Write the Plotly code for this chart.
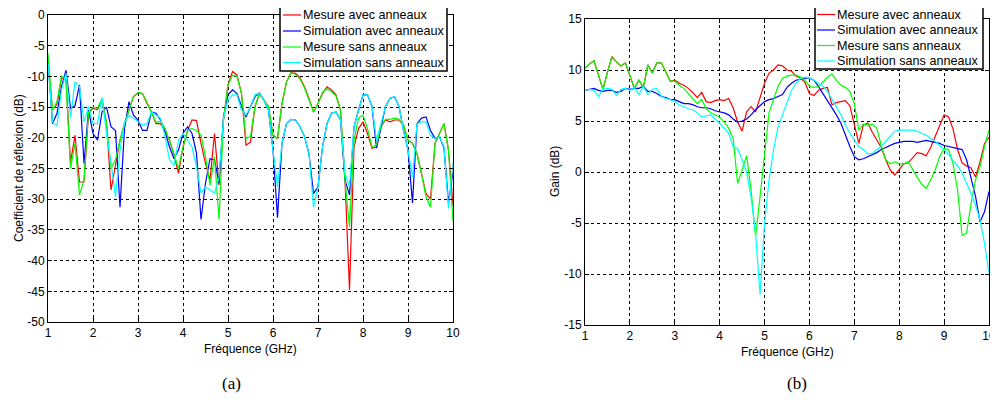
import numpy as np
import plotly.graph_objects as go

# Frequency grid (GHz), 0.1 GHz step
freq = [round(1.0 + 0.1 * i, 1) for i in range(91)]

# ---- (a) Coefficient de réflexion (dB) ----
s11_mes_avec = [-7.5, -15.5, -14.5, -10.3, -10.5, -24.0, -19.6, -27.2, -27.2, -16.0,
                -15.2, -15.4, -13.8, -17.5, -28.5, -24.7, -20.4, -17.7, -15.5, -13.3,
                -12.7, -12.8, -14.4, -15.8, -17.7, -17.7, -18.8, -20.4, -22.8, -25.8,
                -21.5, -18.8, -17.1, -17.2, -20.9, -24.2, -26.9, -19.3, -27.7, -17.1,
                -11.4, -9.2, -9.8, -12.8, -21.2, -20.7, -14.9, -12.8, -13.9, -14.9,
                -19.6, -20.1, -14.4, -10.9, -9.4, -9.5, -10.2, -11.7, -13.6, -15.8,
                -14.4, -12.8, -11.7, -12.2, -13.0, -15.5, -26.9, -44.8, -21.5, -18.5,
                -17.4, -19.3, -21.7, -21.5, -18.2, -17.1, -17.4, -17.1, -17.1, -17.9,
                -20.4, -20.9, -22.6, -25.8, -29.1, -30.0, -20.9, -19.3, -17.7, -22.0,
                -31.0]
s11_sim_avec = [-7.3, -17.7, -16.0, -11.7, -9.0, -15.2, -14.8, -11.4, -24.2, -15.5,
                -19.3, -20.4, -15.8, -15.0, -18.2, -18.8, -31.3, -18.5, -14.1, -16.3,
                -17.1, -18.8, -18.8, -15.8, -16.0, -17.1, -19.0, -21.5, -23.4, -22.0,
                -19.3, -18.2, -19.3, -22.5, -33.3, -27.4, -23.4, -23.6, -27.4, -16.6,
                -13.0, -12.2, -12.8, -14.9, -16.6, -14.9, -13.3, -12.7, -13.9, -15.5,
                -22.0, -33.0, -20.9, -17.7, -17.0, -17.1, -18.2, -19.8, -22.6, -29.1,
                -28.0, -21.5, -17.7, -16.0, -15.8, -17.1, -26.9, -29.3, -18.2, -15.5,
                -13.0, -13.0, -14.9, -21.7, -18.2, -14.9, -13.6, -13.3, -14.9, -18.8,
                -22.0, -30.6, -17.7, -16.8, -16.6, -18.8, -20.1, -19.8, -21.7, -30.6,
                -25.5]
s11_mes_sans = [-6.3, -15.5, -14.1, -9.9, -10.6, -25.0, -20.9, -29.3, -26.9, -15.8,
                -15.0, -15.2, -13.6, -17.7, -25.0, -23.6, -20.4, -17.7, -15.5, -13.3,
                -12.6, -12.8, -14.2, -15.8, -17.5, -17.3, -18.5, -20.4, -22.8, -25.0,
                -21.5, -18.8, -18.5, -18.8, -19.6, -23.1, -27.7, -23.1, -33.3, -17.1,
                -11.4, -9.8, -10.0, -12.8, -20.1, -19.8, -14.9, -12.8, -13.9, -14.9,
                -19.6, -20.1, -14.4, -10.9, -9.4, -9.7, -10.4, -11.9, -13.8, -15.8,
                -14.4, -12.6, -12.0, -12.5, -13.2, -15.5, -26.9, -34.5, -20.4, -16.8,
                -16.3, -18.5, -21.5, -21.2, -18.0, -17.0, -17.0, -16.8, -17.0, -17.9,
                -20.4, -20.9, -22.6, -25.8, -29.6, -31.3, -20.9, -19.3, -17.7, -22.0,
                -33.6]
s11_sim_sans = [-7.9, -17.4, -18.1, -12.2, -9.5, -16.8, -10.9, -11.7, -17.4, -14.9,
                -17.7, -17.7, -13.4, -19.3, -24.0, -29.6, -22.0, -17.5, -16.3, -16.8,
                -17.4, -17.9, -17.7, -15.8, -16.3, -16.8, -19.8, -23.6, -24.5, -20.4,
                -19.3, -20.4, -21.5, -24.7, -29.0, -28.0, -28.5, -29.0, -26.4, -16.8,
                -13.9, -13.0, -13.0, -15.5, -16.3, -15.0, -13.0, -12.7, -13.9, -15.5,
                -22.0, -28.0, -20.9, -17.7, -17.0, -17.1, -18.2, -19.8, -22.6, -31.3,
                -28.0, -21.5, -17.7, -16.0, -15.8, -17.1, -25.8, -28.0, -18.2, -15.5,
                -13.0, -13.0, -14.9, -20.4, -17.7, -14.9, -13.6, -13.3, -14.9, -18.8,
                -22.0, -26.4, -17.7, -17.4, -17.4, -19.6, -20.1, -19.8, -21.5, -31.5,
                -24.0]

# ---- (b) Gain (dB) ----
gain_mes_avec = [10.2, 10.6, 10.9, 9.5, 8.1, 9.8, 11.3, 10.8, 10.4, 10.7,
                 9.5, 8.2, 9.0, 8.3, 10.5, 9.7, 10.7, 10.7, 9.8, 8.9,
                 9.0, 8.7, 8.5, 8.2, 7.8, 7.3, 7.8, 6.9, 6.8, 7.0,
                 7.1, 7.0, 7.2, 6.3, 4.9, 4.0, 5.9, 6.4, 5.9, 7.4,
                 8.7, 9.7, 10.0, 10.5, 10.4, 10.0, 9.9, 9.4, 9.2, 8.8,
                 7.7, 7.5, 8.0, 8.2, 8.3, 6.6, 6.8, 6.9, 7.0, 6.5,
                 4.5, 2.8, 4.6, 4.8, 3.9, 3.2, 2.4, 1.2, 0.2, -0.3,
                 0.3, 0.8, 0.9, 1.4, 1.9, 1.8, 1.6, 2.4, 3.5, 4.6,
                 5.6, 5.4, 4.2, 2.2, 0.9, 0.6, 0.4, -0.5, 1.0, 2.8,
                 3.4]
gain_sim_avec = [8.0, 8.1, 8.2, 8.0, 7.9, 8.0, 8.0, 7.8, 7.9, 8.2,
                 8.1, 8.2, 8.2, 8.4, 7.9, 7.9, 7.7, 7.4, 7.3, 7.1,
                 7.1, 6.9, 6.7, 6.7, 6.6, 6.4, 6.3, 6.3, 6.2, 6.0,
                 5.9, 5.8, 5.6, 5.2, 4.9, 5.0, 5.2, 5.6, 6.1, 6.5,
                 6.9, 7.1, 7.2, 7.4, 7.6, 8.3, 8.7, 9.0, 9.1, 9.2,
                 9.2, 9.0, 8.4, 7.7, 7.0, 6.4, 5.6, 4.8, 3.6, 2.5,
                 1.5, 1.2, 1.3, 1.5, 1.7, 1.9, 2.2, 2.4, 2.6, 2.8,
                 2.9, 3.0, 3.0, 3.0, 2.9, 3.0, 3.1, 3.0, 2.9, 2.8,
                 2.6, 2.5, 2.4, 2.3, 2.2, 1.2, -0.5, -2.4, -4.9, -3.9,
                 -1.9]
gain_mes_sans = [10.2, 10.6, 10.9, 9.5, 8.1, 9.8, 11.3, 10.8, 10.4, 10.7,
                 9.5, 8.2, 9.0, 8.3, 10.5, 9.7, 10.7, 10.7, 9.8, 8.9,
                 8.9, 8.5, 8.2, 7.7, 7.2, 6.7, 7.1, 6.2, 5.8, 5.6,
                 5.4, 4.9, 4.3, 3.3, -1.1, 0.2, 1.6, -1.8, -6.3, -2.4,
                 1.5, 5.8, 7.1, 8.4, 9.2, 9.4, 9.5, 9.5, 9.3, 9.0,
                 8.4, 8.3, 8.4, 8.8, 9.3, 9.6, 9.0, 8.5, 8.3, 7.9,
                 6.7, 4.1, 4.7, 4.6, 4.7, 4.3, 2.6, 1.2, 0.8, 1.0,
                 0.8, 0.8, 1.0, 0.2, -0.5, -1.2, -1.6, -0.8, 0.2, 1.5,
                 2.3, 2.2, 0.8, -1.8, -6.2, -6.0, -3.1, -0.8, 0.5, 2.5,
                 4.1]
gain_sim_sans = [8.0, 8.1, 8.0, 7.4, 8.1, 8.2, 8.1, 7.5, 8.1, 8.2,
                 8.0, 8.3, 7.6, 8.4, 7.6, 8.1, 8.2, 7.4, 7.2, 7.1,
                 6.9, 6.6, 6.4, 6.2, 6.1, 5.8, 5.4, 5.5, 5.6, 5.2,
                 4.8, 4.3, 3.8, 2.5, 2.3, 1.2, 0.0, -2.5, -6.0, -12.0,
                 -5.0, -0.8, 2.2, 4.4, 5.6, 6.7, 8.0, 8.7, 9.2, 9.3,
                 9.2, 9.0, 8.7, 8.4, 7.9, 7.2, 6.4, 5.6, 4.6, 3.8,
                 3.1, 2.5, 2.2, 1.8, 1.8, 2.2, 2.5, 3.0, 3.5, 4.0,
                 4.1, 4.1, 4.1, 4.1, 4.0, 3.8, 3.6, 3.3, 3.0, 2.6,
                 2.2, 1.7, 1.2, 0.6, -0.1, -1.1, -2.1, -3.3, -4.7, -7.0,
                 -9.9]

names = ["Mesure avec anneaux", "Simulation avec anneaux",
         "Mesure sans anneaux", "Simulation sans anneaux"]
colors = ["#ff0000", "#0000ff", "#00ff00", "#00ffff"]

x_ticks = [1, 2, 3, 4, 5, 6, 7, 8, 9, 10]
y1_ticks = [0, -5, -10, -15, -20, -25, -30, -35, -40, -45, -50]
y2_ticks = [15, 10, 5, 0, -5, -10, -15]

# page body has an 8 px margin: figure is placed at (8, 8)
OFF = 8
W, H = 990, 392
FONT = "Liberation Sans, Arial, Helvetica, sans-serif"

fig = go.Figure()
for name, col, ys in zip(names, colors, [s11_mes_avec, s11_sim_avec, s11_mes_sans, s11_sim_sans]):
    fig.add_trace(go.Scatter(x=freq, y=ys, mode="lines", name=name, showlegend=False,
                             line=dict(color=col, width=1.2),
                             xaxis="x", yaxis="y"))
for name, col, ys in zip(names, colors, [gain_mes_avec, gain_sim_avec, gain_mes_sans, gain_sim_sans]):
    fig.add_trace(go.Scatter(x=freq, y=ys, mode="lines", name=name, showlegend=False,
                             line=dict(color=col, width=1.2),
                             xaxis="x2", yaxis="y2"))

def px_x(p):
    return (p - OFF) / W

def px_y(p):
    return 1 - (p - OFF) / H

axis_common = dict(showline=True, linecolor="black", linewidth=1, mirror="ticks",
                   ticks="inside", ticklen=4, tickcolor="black",
                   showgrid=True, gridcolor="black", griddash="dot", gridwidth=1,
                   zeroline=False, automargin=False,
                   tickfont=dict(family=FONT, size=12, color="black"))

fig.update_layout(
    width=W, height=H,
    margin=dict(l=0, r=0, t=0, b=0, pad=0, autoexpand=False),
    paper_bgcolor="white", plot_bgcolor="white",
    font=dict(family=FONT, size=12, color="black"),
    xaxis=dict(domain=[px_x(48), px_x(453)], range=[1, 10], anchor="y",
               tickvals=x_ticks, ticktext=[str(v) for v in x_ticks], **axis_common),
    yaxis=dict(domain=[px_y(322), px_y(15)], range=[-50, 0], anchor="x",
               tickvals=y1_ticks, ticktext=[str(v) for v in y1_ticks], **axis_common),
    xaxis2=dict(domain=[px_x(585), px_x(989)], range=[1, 10], anchor="y2",
                tickvals=x_ticks, ticktext=[str(v) for v in x_ticks], **axis_common),
    yaxis2=dict(domain=[px_y(325), px_y(19)], range=[-15, 15], anchor="x2",
                tickvals=y2_ticks, ticktext=[str(v) for v in y2_ticks], **axis_common),
    showlegend=False,
)

# MATLAB-style legend boxes (box, short sample line, label)
legend_boxes = [
    dict(x0=280, x1=447, y0=3, y1=71, rows=[15, 31, 47, 62.5], lx0=283, lx1=301, tx=302),
    dict(x0=815, x1=983, y0=4, y1=69, rows=[14.5, 30, 45.5, 61], lx0=817, lx1=835, tx=836),
]
for lb in legend_boxes:
    fig.add_shape(type="rect", xref="paper", yref="paper",
                  x0=px_x(lb["x0"]), x1=px_x(lb["x1"]), y0=px_y(lb["y1"]), y1=px_y(lb["y0"]),
                  fillcolor="white", line=dict(color="black", width=1.5), layer="above")
    for name, col, ry in zip(names, colors, lb["rows"]):
        fig.add_shape(type="line", xref="paper", yref="paper",
                      x0=px_x(lb["lx0"]), x1=px_x(lb["lx1"]), y0=px_y(ry), y1=px_y(ry),
                      line=dict(color=col, width=1.2), layer="above")
        fig.add_annotation(text=name, x=px_x(lb["tx"]), y=px_y(ry), xref="paper", yref="paper",
                           xanchor="left", yanchor="middle", showarrow=False, borderpad=0,
                           font=dict(family=FONT, size=12.6, color="black"))

annots = [
    dict(text="Fréquence (GHz)", x=px_x(250), y=px_y(349), size=12, angle=0, fam=FONT),
    dict(text="Fréquence (GHz)", x=px_x(787), y=px_y(352), size=12, angle=0, fam=FONT),
    dict(text="Coefficient de réflexion (dB)", x=px_x(19), y=px_y(168), size=12, angle=-90, fam=FONT),
    dict(text="Gain (dB)", x=px_x(555), y=px_y(172), size=12, angle=-90, fam=FONT),
    dict(text="(a)", x=px_x(231), y=px_y(383), size=17, angle=0, fam="Liberation Serif, DejaVu Serif, serif"),
    dict(text="(b)", x=px_x(797), y=px_y(383), size=17, angle=0, fam="Liberation Serif, DejaVu Serif, serif"),
]
for a in annots:
    fig.add_annotation(text=a["text"], x=a["x"], y=a["y"], xref="paper", yref="paper",
                       xanchor="center", yanchor="middle", showarrow=False,
                       textangle=a["angle"], font=dict(family=a["fam"], size=a["size"], color="black"))

fig.write_html("out.html")
